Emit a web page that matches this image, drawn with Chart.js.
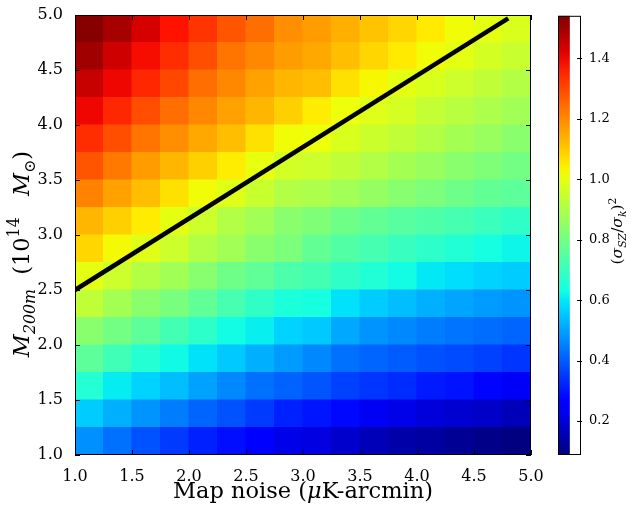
<!DOCTYPE html>
<html>
<head>
<meta charset="utf-8">
<script src="https://cdn.jsdelivr.net/npm/chart.js@4.4.1/dist/chart.umd.min.js"></script>
<style>
  html, body { margin: 0; padding: 0; background: #fff; }
  #wrap { position: relative; width: 632px; height: 508px; }
  #main { position: absolute; left: 0; top: 0; }
  #cbar { position: absolute; left: 530px; top: 0; }
</style>
</head>
<body>
<div id="wrap">
  <canvas id="main" width="632" height="508"></canvas>
  <canvas id="cbar" width="102" height="508"></canvas>
</div>
<script>
// Cell lower edges: map noise (uK-arcmin) and mass (1e14 Msun)
const noiseBins = [1.0, 1.25, 1.5, 1.75, 2.0, 2.25, 2.5, 2.75, 3.0, 3.25, 3.5, 3.75, 4.0, 4.25, 4.5, 4.75];
const massBins = [1.0, 1.25, 1.5, 1.75, 2.0, 2.25, 2.5, 2.75, 3.0, 3.25, 3.5, 3.75, 4.0, 4.25, 4.5, 4.75];

// (sigma_SZ / sigma_k)^2, one row per mass bin, top row (4.75-5.0) first
const ratioRows = [
  [1.53, 1.49, 1.43, 1.38, 1.33, 1.28, 1.24, 1.19, 1.17, 1.14, 1.11, 1.08, 1.05, 1.02, 1.00, 0.98],
  [1.50, 1.44, 1.39, 1.34, 1.29, 1.23, 1.20, 1.17, 1.15, 1.115, 1.08, 1.05, 1.02, 1.00, 0.97, 0.95],
  [1.45, 1.40, 1.35, 1.30, 1.24, 1.20, 1.16, 1.13, 1.115, 1.064, 1.03, 1.00, 0.98, 0.956, 0.935, 0.91],
  [1.40, 1.35, 1.29, 1.24, 1.20, 1.16, 1.13, 1.09, 1.045, 1.015, 0.99, 0.97, 0.94, 0.92, 0.90, 0.88],
  [1.34, 1.29, 1.23, 1.19, 1.15, 1.115, 1.064, 1.02, 1.015, 0.98, 0.955, 0.935, 0.91, 0.885, 0.865, 0.84],
  [1.28, 1.225, 1.17, 1.13, 1.09, 1.045, 1.005, 0.965, 0.956, 0.935, 0.91, 0.885, 0.865, 0.84, 0.82, 0.80],
  [1.21, 1.16, 1.115, 1.064, 1.02, 0.99, 0.95, 0.91, 0.90, 0.88, 0.86, 0.835, 0.815, 0.79, 0.77, 0.76],
  [1.13, 1.09, 1.045, 1.00, 0.956, 0.91, 0.88, 0.84, 0.82, 0.79, 0.77, 0.75, 0.735, 0.72, 0.70, 0.68],
  [1.08, 1.025, 0.99, 0.956, 0.91, 0.88, 0.84, 0.815, 0.77, 0.74, 0.72, 0.695, 0.675, 0.655, 0.635, 0.62],
  [1.00, 0.956, 0.91, 0.88, 0.835, 0.79, 0.765, 0.73, 0.715, 0.68, 0.655, 0.63, 0.60, 0.585, 0.57, 0.56],
  [0.935, 0.885, 0.84, 0.81, 0.765, 0.72, 0.68, 0.645, 0.635, 0.59, 0.56, 0.54, 0.52, 0.504, 0.49, 0.48],
  [0.84, 0.80, 0.76, 0.715, 0.675, 0.63, 0.61, 0.57, 0.555, 0.51, 0.48, 0.465, 0.447, 0.435, 0.425, 0.413],
  [0.76, 0.71, 0.66, 0.625, 0.59, 0.555, 0.52, 0.49, 0.465, 0.43, 0.413, 0.40, 0.385, 0.375, 0.36, 0.345],
  [0.66, 0.607, 0.57, 0.54, 0.50, 0.465, 0.43, 0.41, 0.39, 0.36, 0.345, 0.33, 0.305, 0.295, 0.275, 0.24],
  [0.56, 0.52, 0.48, 0.447, 0.413, 0.385, 0.35, 0.316, 0.30, 0.28, 0.235, 0.22, 0.203, 0.19, 0.18, 0.16],
  [0.475, 0.43, 0.385, 0.35, 0.316, 0.288, 0.27, 0.22, 0.21, 0.185, 0.16, 0.14, 0.13, 0.115, 0.10, 0.09],
];

// black line across the map
const lineNoise = [1.0, 4.8];
const lineMass = [2.5, 4.97];

// axis ticks
const xTicks = [1.0, 1.5, 2.0, 2.5, 3.0, 3.5, 4.0, 4.5, 5.0];
const yTicks = [1.0, 1.5, 2.0, 2.5, 3.0, 3.5, 4.0, 4.5, 5.0];
const cbTicks = [0.2, 0.4, 0.6, 0.8, 1.0, 1.2, 1.4];
const cbMin = 0.088;
const cbMax = 1.54;

const serif = '"DejaVu Serif", serif';

// matplotlib "jet" colormap
function jetChannel(t, pts) {
  for (let i = 1; i < pts.length; i++) {
    if (t <= pts[i][0]) {
      const [t0, v0] = pts[i - 1];
      const [t1, v1] = pts[i];
      return v0 + (v1 - v0) * (t - t0) / (t1 - t0);
    }
  }
  return pts[pts.length - 1][1];
}
function jet(t) {
  t = Math.min(1, Math.max(0, t));
  const r = jetChannel(t, [[0, 0], [0.35, 0], [0.66, 1], [0.89, 1], [1, 0.5]]);
  const g = jetChannel(t, [[0, 0], [0.125, 0], [0.375, 1], [0.64, 1], [0.91, 0], [1, 0]]);
  const b = jetChannel(t, [[0, 0.5], [0.11, 1], [0.34, 1], [0.65, 0], [1, 0]]);
  return `rgb(${Math.round(r * 255)}, ${Math.round(g * 255)}, ${Math.round(b * 255)})`;
}

// text with italic / sub / superscript runs, centred on (cx, cy)
function drawMath(ctx, runs, size, cx, cy, rotated) {
  ctx.save();
  ctx.translate(cx, cy);
  if (rotated) ctx.rotate(-Math.PI / 2);
  ctx.fillStyle = "#000";
  ctx.textBaseline = "alphabetic";
  const fontFor = (r) =>
    (r.it ? "italic " : "") + (r.sub || r.sup ? size * 0.7 : size) + "px " + serif;
  let total = 0;
  runs.forEach((r) => {
    ctx.font = fontFor(r);
    r.w = ctx.measureText(r.t).width;
    total += r.w;
  });
  let x = -total / 2;
  runs.forEach((r) => {
    ctx.font = fontFor(r);
    const dy = r.sub ? size * 0.25 : r.sup ? -size * 0.42 : 0;
    ctx.fillText(r.t, x, size * 0.35 + dy);
    x += r.w;
  });
  ctx.restore();
}

// build heatmap cells
const binWidth = noiseBins[1] - noiseBins[0];
const cells = [];
const cellColors = [];
ratioRows.forEach((row, r) => {
  const m0 = massBins[massBins.length - 1 - r];
  row.forEach((v, c) => {
    cells.push({ x: noiseBins[c] + binWidth / 2, y: [m0, m0 + binWidth] });
    cellColors.push(jet((v - cbMin) / (cbMax - cbMin)));
  });
});

const frameTicks = {
  id: "frameTicks",
  afterDatasetsDraw(chart) {
    const { ctx, chartArea: a, scales } = chart;
    ctx.save();
    ctx.strokeStyle = "#000";
    ctx.lineWidth = 1;
    ctx.beginPath();
    scales.x.ticks.forEach((t, i) => {
      const px = Math.round(scales.x.getPixelForTick(i)) + 0.5;
      ctx.moveTo(px, a.bottom);
      ctx.lineTo(px, a.bottom - 5);
      ctx.moveTo(px, a.top);
      ctx.lineTo(px, a.top + 5);
    });
    scales.y.ticks.forEach((t, i) => {
      const py = Math.round(scales.y.getPixelForTick(i)) + 0.5;
      ctx.moveTo(a.left, py);
      ctx.lineTo(a.left + 5, py);
      ctx.moveTo(a.right, py);
      ctx.lineTo(a.right - 5, py);
    });
    ctx.stroke();
    ctx.strokeRect(a.left + 0.5, a.top + 0.5, a.right - a.left - 1, a.bottom - a.top - 1);
    ctx.restore();
  },
  afterDraw(chart) {
    const a = chart.chartArea;
    drawMath(chart.ctx, [
      { t: "M", it: true },
      { t: "200m", it: true, sub: true },
      { t: "  (10" },
      { t: "14", sup: true },
      { t: "   " },
      { t: "M", it: true },
      { t: "\u2299", sub: true },
      { t: ")" },
    ], 22.5, 21, 254, true);
    drawMath(chart.ctx, [
      { t: "Map noise (" },
      { t: "\u03bc", it: true },
      { t: "K-arcmin)" },
    ], 22.5, (a.left + a.right) / 2, 490, false);
  },
};

new Chart(document.getElementById("main"), {
  type: "bar",
  data: {
    datasets: [
      {
        type: "line",
        data: lineNoise.map((x, i) => ({ x: x, y: lineMass[i] })),
        borderColor: "#000",
        borderWidth: 4.5,
        pointRadius: 0,
        order: 0,
      },
      {
        data: cells,
        backgroundColor: cellColors,
        borderWidth: 0,
        categoryPercentage: 1,
        barPercentage: 1,
        inflateAmount: 0.5,
        order: 1,
      },
    ],
  },
  options: {
    responsive: false,
    animation: false,
    layout: { padding: { left: 0, top: 15, right: 101, bottom: 0 } },
    plugins: {
      legend: { display: false },
      tooltip: { enabled: false },
    },
    scales: {
      x: {
        type: "linear",
        min: 1,
        max: 5,
        offset: false,
        grid: { display: false },
        border: { display: false },
        afterBuildTicks: (s) => { s.ticks = xTicks.map((v) => ({ value: v })); },
        afterFit: (s) => { s.height = 53; },
        ticks: {
          color: "#000",
          padding: 4,
          font: { family: serif, size: 16 },
          callback: (v) => v.toFixed(1),
        },
      },
      y: {
        min: 1,
        max: 5,
        beginAtZero: false,
        grid: { display: false },
        border: { display: false },
        afterBuildTicks: (s) => { s.ticks = yTicks.map((v) => ({ value: v })); },
        afterFit: (s) => { s.width = 75; },
        ticks: {
          color: "#000",
          padding: 4,
          font: { family: serif, size: 16 },
          callback: (v) => v.toFixed(1),
        },
      },
    },
  },
  plugins: [frameTicks],
});

// colour bar
const cbarDeco = {
  id: "cbarDeco",
  afterDatasetsDraw(chart) {
    const { ctx, chartArea: a, scales } = chart;
    ctx.save();
    ctx.strokeStyle = "#000";
    ctx.lineWidth = 1;
    ctx.beginPath();
    scales.y.ticks.forEach((t, i) => {
      const py = Math.round(scales.y.getPixelForTick(i)) + 0.5;
      ctx.moveTo(a.right - 4, py);
      ctx.lineTo(a.right + 1, py);
    });
    ctx.stroke();
    ctx.strokeRect(a.left + 0.5, a.top + 0.5, a.right - a.left - 1, a.bottom - a.top - 1);
    ctx.restore();
  },
  afterDraw(chart) {
    drawMath(chart.ctx, [
      { t: "(" },
      { t: "\u03c3", it: true },
      { t: "SZ", it: true, sub: true },
      { t: "/" },
      { t: "\u03c3", it: true },
      { t: "k", it: true, sub: true },
      { t: ")" },
      { t: "2", sup: true },
    ], 15.5, 87, 231, true);
  },
};

new Chart(document.getElementById("cbar"), {
  type: "bar",
  data: {
    labels: [""],
    datasets: [
      {
        data: [[cbMin, cbMax]],
        backgroundColor: (c) => {
          const area = c.chart.chartArea;
          if (!area) return "#888";
          const g = c.chart.ctx.createLinearGradient(0, area.bottom, 0, area.top);
          for (let i = 0; i <= 40; i++) g.addColorStop(i / 40, jet(i / 40));
          return g;
        },
        borderWidth: 0,
        categoryPercentage: 1,
        barPercentage: 1,
      },
    ],
  },
  options: {
    responsive: false,
    animation: false,
    layout: { padding: { left: 28, top: 15, right: 0, bottom: 53 } },
    plugins: {
      legend: { display: false },
      tooltip: { enabled: false },
    },
    scales: {
      x: { display: false, offset: false },
      y: {
        position: "right",
        min: cbMin,
        max: cbMax,
        beginAtZero: false,
        grid: { display: false, drawTicks: false },
        border: { display: false },
        afterBuildTicks: (s) => { s.ticks = cbTicks.map((v) => ({ value: v })); },
        afterFit: (s) => { s.width = 51; },
        ticks: {
          color: "#000",
          padding: 8,
          font: { family: serif, size: 13 },
          callback: (v) => v.toFixed(1),
        },
      },
    },
  },
  plugins: [cbarDeco],
});
</script>
</body>
</html>
